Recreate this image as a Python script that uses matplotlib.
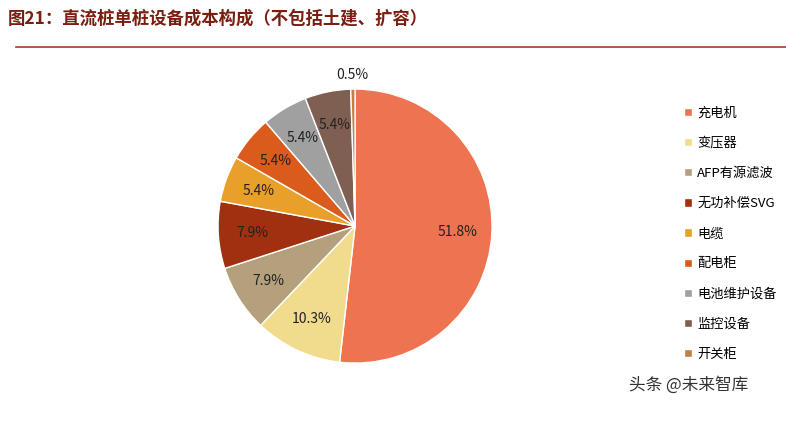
import matplotlib
matplotlib.use("Agg")
import matplotlib.pyplot as plt
import numpy as np

plt.rcParams['font.family'] = ['Noto Sans CJK SC', 'DejaVu Sans']

labels = ["充电机", "变压器", "AFP有源滤波", "无功补偿SVG", "电缆", "配电柜", "电池维护设备", "监控设备", "开关柜"]
values = [51.8, 10.3, 7.9, 7.9, 5.4, 5.4, 5.4, 5.4, 0.5]
colors = ["#EE7350", "#F0DC8C", "#B5A07E", "#A0300F", "#E8A02A", "#DA5B1C", "#A0A0A0", "#7F5F52", "#C08040"]

fig = plt.figure(figsize=(7.86, 4.21), dpi=100)
ax = fig.add_axes([0.4517 - 0.1743, 0.463 - 0.3255, 0.3486, 0.651])
wedges, texts = ax.pie(values, colors=colors, startangle=90, counterclock=False,
                       wedgeprops=dict(linewidth=1, edgecolor="white"))
for w, v in zip(wedges, values):
    ang = np.deg2rad((w.theta1 + w.theta2) / 2)
    r = 1.1 if v < 1 else 0.75
    ax.text(r * np.cos(ang), r * np.sin(ang), f"{v}%", ha="center", va="center", fontsize=10,
            color="#222222", clip_on=False)
ax.set_xlim(-1, 1)
ax.set_ylim(-1, 1)
ax.set_aspect("equal")

fig.legend(wedges, labels, loc="upper left", bbox_to_anchor=(0.855, 0.775), frameon=False,
           fontsize=9.5, handlelength=0.6, handleheight=0.6, handletextpad=0.4, labelspacing=1.3)

fig.text(0.01, 0.955, "图21：直流桩单桩设备成本构成（不包括土建、扩容）", fontsize=12.5, fontweight="bold",
         color="#7A1E10", ha="left", va="center")
fig.add_artist(plt.Line2D([0.02, 1.0], [0.888, 0.888], color="#A0401E", linewidth=1.2))
fig.text(0.80, 0.085, "头条 @未来智库", fontsize=12, color="#333333", ha="left", va="center")

fig.savefig("out.png", dpi=100)
